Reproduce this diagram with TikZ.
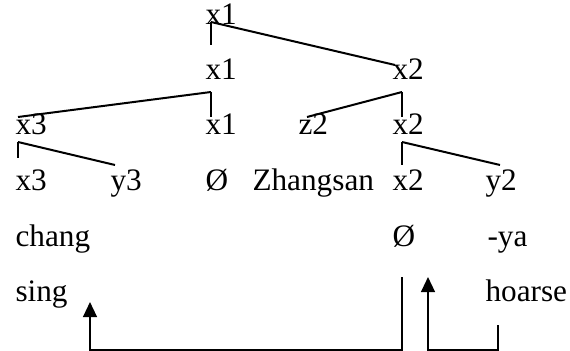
\documentclass[tikz,border=0pt]{standalone}
\usepackage{fontspec}
\setmainfont{Liberation Serif}
\usetikzlibrary{arrows.meta}

\begin{document}
\begin{tikzpicture}[
    x=0.4pt, y=-0.4pt,
    font=\fontsize{12.5}{15}\selectfont,
    lbl/.style={anchor=base west, inner sep=0pt},
    branch/.style={line width=0.8pt},
    arr/.style={-{Triangle[length=6pt, width=5.5pt]}, line width=0.8pt}
  ]
  \useasboundingbox (0,0) rectangle (570,351);

  % tree
  \node[lbl] (xa) at (205,25) {x1};
  \node[lbl] (xb) at (205,80) {x1};
  \node[lbl] (xc) at (392,80) {x2};
  \node[lbl] (xd) at (15,135) {x3};
  \node[lbl] (xe) at (205,135) {x1};
  \node[lbl] (zf) at (298,135) {z2};
  \node[lbl] (xg) at (392,135) {x2};
  \node[lbl] (xh) at (15,191) {x3};
  \node[lbl] (yi) at (110,191) {y3};
  \node[lbl] (ej) at (205,191) {Ø};
  \node[lbl] (zs) at (252,191) {Zhangsan};
  \node[lbl] (xk) at (392,191) {x2};
  \node[lbl] (yl) at (485,191) {y2};

  % words
  \node[lbl] (chang) at (15,246) {chang};
  \node[lbl] (em) at (392,246) {Ø};
  \node[lbl] (ya) at (487,246) {-ya};
  \node[lbl] (sing) at (15,301) {sing};
  \node[lbl] (hoarse) at (485,301) {hoarse};

  \coordinate (ja) at (211,22);
  \coordinate (jb) at (211,92);
  \coordinate (jc) at (402,92);
  \coordinate (jd) at (18,142);
  \coordinate (jg) at (402,142);

  \draw[branch] (ja) -- (211,45);
  \draw[branch] (ja) -- (395,65);
  \draw[branch] (jb) -- (211,117);
  \draw[branch] (jb) -- (18,117);
  \draw[branch] (jc) -- (402,117);
  \draw[branch] (jc) -- (307,117);
  \draw[branch] (jd) -- (18,158);
  \draw[branch] (jd) -- (115,165);
  \draw[branch] (jg) -- (402,165);
  \draw[branch] (jg) -- (500,165);

  % movement arrows
  \coordinate (m1s) at (402,277);
  \coordinate (m1e) at (90,302);
  \coordinate (m2s) at (498,325);
  \coordinate (m2e) at (428,277);
  \draw[arr] (m1s) -- (m1s |- 0,349.5) -| (m1e);
  \draw[arr] (m2s) -- (m2s |- 0,349.5) -| (m2e);
\end{tikzpicture}
\end{document}
